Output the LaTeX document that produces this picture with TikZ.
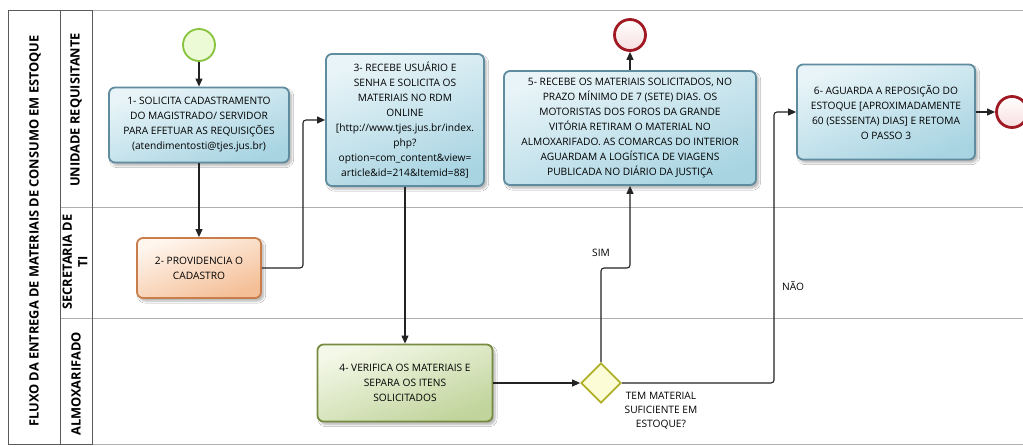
\documentclass[tikz,border=0pt]{standalone}
\usepackage{fontspec}
\setmainfont{Open Sans}
\usetikzlibrary{arrows.meta,shapes.geometric,shadows.blur}
\definecolor{frameC}{RGB}{90,90,90}
\definecolor{laneC}{RGB}{175,175,175}
\definecolor{lineC}{RGB}{35,35,35}
\definecolor{blueB}{RGB}{95,140,158}
\definecolor{blueT}{RGB}{232,244,248}
\definecolor{blueD}{RGB}{168,212,226}
\definecolor{orB}{RGB}{200,125,75}
\definecolor{orT}{RGB}{255,246,238}
\definecolor{orD}{RGB}{244,190,150}
\definecolor{grB}{RGB}{120,140,65}
\definecolor{grT}{RGB}{244,248,232}
\definecolor{grD}{RGB}{192,212,155}
\definecolor{stB}{RGB}{135,195,60}
\definecolor{stF}{RGB}{236,250,214}
\definecolor{enB}{RGB}{160,25,35}
\definecolor{enF}{RGB}{248,222,224}
\definecolor{gwB}{RGB}{175,175,40}
\definecolor{gwF}{RGB}{252,252,214}
\tikzset{
  taskbase/.style={rectangle, rounded corners=6pt, line width=1.8pt, inner sep=0pt, align=center,
    font=\fontsize{10.2}{15}\selectfont,
    blur shadow={shadow blur steps=6, shadow xshift=2.5pt, shadow yshift=-3pt, shadow opacity=30}},
  bluetask/.style={taskbase, draw=blueB, top color=blueT, bottom color=blueD, shading angle=20},
  orangetask/.style={taskbase, draw=orB, top color=orT, bottom color=orD, shading angle=20},
  greentask/.style={taskbase, draw=grB, top color=grT, bottom color=grD, shading angle=20},
  startev/.style={circle, draw=stB, fill=stF, line width=1.8pt, minimum size=32pt, inner sep=0pt},
  endev/.style={circle, draw=enB, top color=white, bottom color=enF, line width=2.8pt, minimum size=31pt, inner sep=0pt},
  gateway/.style={diamond, aspect=1, draw=gwB, fill=gwF, line width=1.8pt, minimum width=40pt, minimum height=40pt, inner sep=0pt},
  flow/.style={draw=lineC, line width=1.1pt, rounded corners=3pt, -{Triangle[length=8pt,width=7pt]}},
  lbl/.style={font=\fontsize{10.2}{14}\selectfont, align=center},
  hdr/.style={font=\bfseries\fontsize{12.8}{15.5}\selectfont, rotate=90, align=center},
  lanel/.style={draw=laneC, line width=0.8pt},
  framel/.style={draw=frameC, line width=1pt}
}
\begin{document}
\begin{tikzpicture}[x=1pt,y=-1pt]
\useasboundingbox[fill=white] (0,0) rectangle (1023,447);
% frame
\draw[lanel] (60,10) -- (1023,10);
\draw[lanel] (60,207) -- (1023,207);
\draw[lanel] (60,318) -- (1023,318);
\draw[lanel] (60,444) -- (1023,444);
\draw[framel] (8,10) rectangle (60,444);
\draw[framel] (60,10) -- (92,10) -- (92,444) -- (60,444);
\node[hdr] (pool) at (35,231) {FLUXO DA ENTREGA DE MATERIAIS DE CONSUMO EM ESTOQUE};
\node[hdr] (lane1) at (76,110) {UNIDADE REQUISITANTE};
\node[hdr] (lane2) at (75,262) {SECRETARIA DE\\TI};
\node[hdr] (lane3) at (76,384) {ALMOXARIFADO};
% nodes
\node[startev] (start) at (199,45) {};
\node[bluetask, minimum width=180pt, minimum height=75pt] (t1) at (199,125)
  {1- SOLICITA CADASTRAMENTO\\DO MAGISTRADO/ SERVIDOR\\PARA EFETUAR AS REQUISIÇÕES\\(atendimentosti@tjes.jus.br)};
\node[orangetask, minimum width=124pt, minimum height=60pt] (t2) at (199,268)
  {2- PROVIDENCIA O\\CADASTRO};
\node[bluetask, minimum width=158pt, minimum height=132pt] (t3) at (405,120)
  {3- RECEBE USUÁRIO E\\SENHA E SOLICITA OS\\MATERIAIS NO RDM\\ONLINE\\{[}http://www.tjes.jus.br/index.\\php?\\option=com\_content\&view=\\article\&id=214\&Itemid=88{]}};
\node[greentask, minimum width=175pt, minimum height=77pt] (t4) at (405,383)
  {4- VERIFICA OS MATERIAIS E\\SEPARA OS ITENS\\SOLICITADOS};
\node[gateway] (gw) at (601,383) {};
\node[lbl] (gwl) at (661,411) {TEM MATERIAL\\SUFICIENTE EM\\ESTOQUE?};
\node[bluetask, minimum width=252pt, minimum height=114pt] (t5) at (630,128)
  {5- RECEBE OS MATERIAIS SOLICITADOS, NO\\PRAZO MÍNIMO DE 7 (SETE) DIAS. OS\\MOTORISTAS DOS FOROS DA GRANDE\\VITÓRIA RETIRAM O MATERIAL NO\\ALMOXARIFADO. AS COMARCAS DO INTERIOR\\AGUARDAM A LOGÍSTICA DE VIAGENS\\PUBLICADA NO DIÁRIO DA JUSTIÇA};
\node[endev] (end1) at (630,35) {};
\node[bluetask, minimum width=178pt, minimum height=95pt] (t6) at (886,112)
  {6- AGUARDA A REPOSIÇÃO DO\\ESTOQUE {[}APROXIMADAMENTE\\60 (SESSENTA) DIAS{]} E RETOMA\\O PASSO 3};
\node[endev] (end2) at (1012,112) {};
\node[lbl] (sim) at (601,253) {SIM};
\node[lbl] (nao) at (793,286) {NÃO};
% bend points
\coordinate (b1) at (303,190);
\coordinate (b2) at (630,268);
\coordinate (b3) at (774,200);
% connectors
\draw[flow] (start) -- (t1);
\draw[flow] (t1) -- (t2);
\draw[flow] (t2.east) -- (t2.east -| b1) |- (t3.west);
\draw[flow] (t3) -- (t4);
\draw[flow] (t4) -- (gw);
\draw[flow] (gw.north) |- (b2) -- (t5.south);
\draw[flow] (t5) -- (end1);
\draw[flow] (gw.east) -| (b3) |- (t6.west);
\draw[flow] (t6) -- (end2);
\end{tikzpicture}
\end{document}
